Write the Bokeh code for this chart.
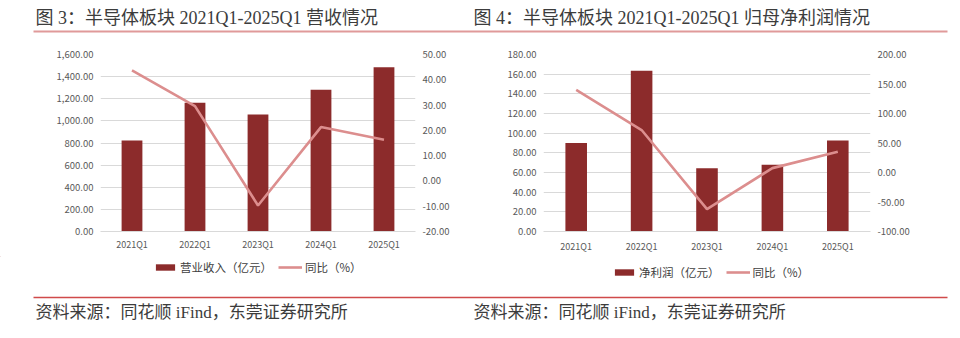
from bokeh.plotting import figure
from bokeh.models import (Range1d, LinearAxis, FixedTicker, NumeralTickFormatter,
                          Legend, LegendItem, ColumnDataSource)
from bokeh.core.properties import value
from bokeh.layouts import row, column
from bokeh.embed import file_html
from bokeh.resources import INLINE

# ---------------- data ----------------
quarters = ["2021Q1", "2022Q1", "2023Q1", "2024Q1", "2025Q1"]
revenue = [822, 1163, 1058, 1281, 1485]           # 营业收入（亿元）
revenue_yoy = [43.7, 29.6, -9.7, 21.3, 16.3]      # 同比（%）
profit = [90.0, 163.6, 64.4, 68.0, 92.6]          # 净利润（亿元）
profit_yoy = [140.0, 72.0, -62.0, 7.4, 35.2]      # 同比（%）

rev_ticks = [0, 200, 400, 600, 800, 1000, 1200, 1400, 1600]
rev_yoy_ticks = [-20, -10, 0, 10, 20, 30, 40, 50]
prof_ticks = [0, 20, 40, 60, 80, 100, 120, 140, 160, 180]
prof_yoy_ticks = [-100, -50, 0, 50, 100, 150, 200]

titles = ["图 3：半导体板块 2021Q1-2025Q1 营收情况", "图 4：半导体板块 2021Q1-2025Q1 归母净利润情况"]
source_text = "资料来源：同花顺 iFind，东莞证券研究所"
bar_label_left = "营业收入（亿元）"
bar_label_right = "净利润（亿元）"
line_label = "同比（%）"

BAR = "#8c2b2b"
LINE = "#dc8e8e"
GRID = "#d9d9d9"
TICK = "#595959"
TEXT = "#3c3c3c"
SANS = "Noto Sans CJK SC"
SERIF = "'Liberation Serif', 'Noto Sans CJK SC'"

W, H = 960, 338
TOP_H = 36          # title strip height
BOT_Y = 256         # page y where the legend/source strip starts
MID_H = BOT_Y - TOP_H


def strip(y0, y1):
    s = figure(width=W, height=y1 - y0, x_range=Range1d(0, W), y_range=Range1d(y1, y0),
               output_backend="svg", toolbar_location=None,
               x_axis_location=None, y_axis_location=None,
               min_border=0, min_border_left=0, min_border_right=0,
               min_border_top=0, min_border_bottom=0)
    s.outline_line_color = None
    s.xgrid.visible = False
    s.ygrid.visible = False
    s.background_fill_color = "white"
    s.border_fill_color = "white"
    return s


# ---- title strip ----
top = strip(0, TOP_H)
top.text(x=[35, 473], y=[17, 17], text=titles, text_font=value(SERIF), text_font_size="18px",
         text_color=TEXT, text_align="left", text_baseline="middle")
top.quad(left=[33], right=[947], top=[30], bottom=[32], fill_color="#e09a9a", line_color=None)

# ---- legend + source strip ----
bot = strip(BOT_Y, H)
bot.quad(left=[33], right=[947], top=[296.3], bottom=[297.7], fill_color="#d04a4a", line_color=None)
bot.text(x=[35, 473], y=[312, 312], text=[source_text, source_text], text_font=value(SERIF),
         text_font_size="17px", text_color=TEXT, text_align="left", text_baseline="middle")
# legend key renderers (same styles as the chart marks), placed off-canvas
key_src = ColumnDataSource(dict(x=[-1000, -999], y=[-1000, -1000], t=[-1000, -1000]))
bar_key = bot.vbar(x="x", top="t", bottom="y", width=1, source=key_src,
                   fill_color=BAR, line_color=None)
line_key = bot.line(x="x", y="y", source=key_src, line_color=LINE, line_width=2.6)


def add_legend(bar_label, x, y):
    lg = Legend(items=[LegendItem(label=bar_label, renderers=[bar_key], index=0),
                       LegendItem(label=line_label, renderers=[line_key], index=0)],
                orientation="horizontal", location=(x, y),
                background_fill_alpha=0, border_line_color=None,
                padding=0, margin=0, spacing=6, glyph_width=24, glyph_height=8,
                label_standoff=3, label_text_font=SANS, label_text_font_size="11.5px",
                label_text_color="#404040", label_height=14)
    bot.add_layout(lg, "center")


add_legend(bar_label_left, 153, 338 - 275)
add_legend(bar_label_right, 612, 338 - 280)


def make_chart(width, x0, fl, fr, ft, fb, vals, yoy, ticks, yoy_ticks, xlab_standoff):
    # fl/fr/ft/fb: frame edges in page pixels; x0: canvas left in page pixels
    idx = list(range(len(quarters)))
    p = figure(width=width, height=MID_H, x_range=Range1d(-0.5, len(quarters) - 0.5),
               y_range=Range1d(ticks[0], ticks[-1]),
               output_backend="svg", toolbar_location=None,
               min_border_left=fl - x0, min_border_right=x0 + width - fr,
               min_border_top=ft - TOP_H, min_border_bottom=BOT_Y - fb)
    p.outline_line_color = None
    p.background_fill_color = "white"
    p.border_fill_color = "white"
    p.extra_y_ranges = {"pct": Range1d(yoy_ticks[0], yoy_ticks[-1])}

    src = ColumnDataSource(dict(q=idx, v=vals, y=yoy))
    p.vbar(x="q", top="v", width=0.33, source=src, fill_color=BAR, line_color=None)
    p.line(x="q", y="y", source=src, y_range_name="pct", line_color=LINE, line_width=2.6)

    p.xgrid.grid_line_color = None
    p.ygrid.grid_line_color = GRID
    p.ygrid.grid_line_width = 1.2

    yax = p.yaxis[0]
    yax.ticker = FixedTicker(ticks=ticks)
    yax.formatter = NumeralTickFormatter(format="0,0.00")

    rax = LinearAxis(y_range_name="pct", ticker=FixedTicker(ticks=yoy_ticks),
                     formatter=NumeralTickFormatter(format="0.00"))
    p.add_layout(rax, "right")
    for ax in (yax, rax):
        ax.axis_line_color = None
        ax.major_tick_line_color = None
        ax.minor_tick_line_color = None
        ax.major_tick_out = 0
        ax.major_tick_in = 0
        ax.major_label_standoff = 7
        ax.major_label_text_font = SANS
        ax.major_label_text_font_size = "9.5px"
        ax.major_label_text_color = TICK

    xax = p.xaxis[0]
    xax.ticker = FixedTicker(ticks=idx)
    xax.major_label_overrides = {i: q for i, q in zip(idx, quarters)}
    xax.axis_line_color = GRID
    xax.axis_line_width = 1.2
    xax.major_tick_line_color = None
    xax.minor_tick_line_color = None
    xax.major_tick_out = 0
    xax.major_tick_in = 0
    xax.major_label_standoff = xlab_standoff
    xax.major_label_text_font = SANS
    xax.major_label_text_font_size = "9px"
    xax.major_label_text_color = TICK
    return p


left = make_chart(470, 0, 100, 415, 54, 231, revenue, revenue_yoy, rev_ticks, rev_yoy_ticks, 6)
right = make_chart(490, 470, 543, 870, 50, 233, profit, profit_yoy, prof_ticks, prof_yoy_ticks, 8)

layout = column(top, row(left, right, spacing=0), bot, spacing=0)
open("out.html", "w").write(file_html(layout, INLINE))
